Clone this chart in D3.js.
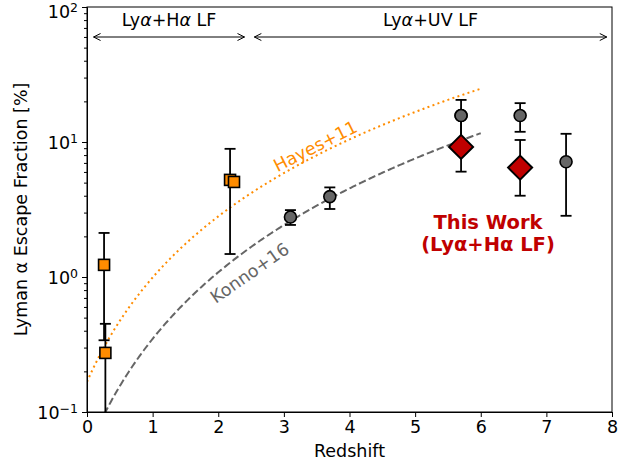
<!DOCTYPE html>
<html>
<head>
<meta charset="utf-8">
<script src="https://cdn.jsdelivr.net/npm/d3@7"></script>
<style>
  body { margin: 0; background: #fff; }
  text { font-family: "DejaVu Sans", sans-serif; }
</style>
</head>
<body>
<svg id="chart" width="636" height="463"></svg>
<script>
// Lyα+Hα luminosity-function estimates (orange squares)
const haZ  = [0.26, 0.28, 2.18, 2.24];
const haF  = [1.23, 0.274, 5.24, 5.06];
const haHi = [2.12, 0.45, 8.9, null];
const haLo = [0.34, 0.05, 1.48, null];

// Lyα+UV luminosity-function estimates (grey circles)
const uvZ  = [3.1, 3.7, 5.7, 6.6, 7.3];
const uvF  = [2.78, 3.94, 15.7, 15.7, 7.14];
const uvHi = [3.13, 4.61, 20.5, 19.4, 11.5];
const uvLo = [2.43, 3.19, 9.8, 11.9, 2.84];

// This work (red diamonds)
const twZ  = [5.7, 6.6];
const twF  = [9.2, 6.46];
const twHi = [15.0, 10.35];
const twLo = [6.03, 4.0];

// Published power-law fits f = C (1+z)^xi, in percent
const hayes = { C: 0.167, xi: 2.57, zmax: 6 };
const konno = { C: 0.05, xi: 2.8, zmax: 6 };

const xTicks = [0, 1, 2, 3, 4, 5, 6, 7, 8];
const yTicks = [0.1, 1, 10, 100];
const yTickExp = ["−1", "0", "1", "2"];

const FS = 17.5;
const W = 636, H = 463;
const m = { left: 87, right: 24, top: 7, bottom: 51 };
const iw = W - m.left - m.right, ih = H - m.top - m.bottom;

const svg = d3.select("#chart");
const x = d3.scaleLinear().domain([0, 8]).range([m.left, m.left + iw]);
const y = d3.scaleLog().domain([0.1, 100]).range([m.top + ih, m.top]);

svg.append("defs").append("clipPath").attr("id", "plot")
  .append("rect").attr("x", m.left).attr("y", m.top).attr("width", iw).attr("height", ih);

const plot = svg.append("g").attr("clip-path", "url(#plot)");

// model curves
function curve(p) {
  const zs = d3.range(0, p.zmax + 1e-9, 0.02);
  return zs.map(z => [z, p.C * Math.pow(1 + z, p.xi)]);
}
const line = d3.line().x(d => x(d[0])).y(d => y(Math.max(d[1], 1e-3)));

plot.append("path").datum(curve(hayes)).attr("d", line)
  .attr("fill", "none").attr("stroke", "#ff8c00").attr("stroke-width", 2)
  .attr("stroke-dasharray", "2,3.3");
plot.append("path").datum(curve(konno)).attr("d", line)
  .attr("fill", "none").attr("stroke", "#666").attr("stroke-width", 2)
  .attr("stroke-dasharray", "7.4,3.2");

// curve labels
svg.append("text").attr("transform", `translate(${x(3.48)},${y(9.3)}) rotate(-27)`)
  .attr("text-anchor", "middle").attr("dominant-baseline", "central")
  .attr("font-size", FS).attr("fill", "#ff8c00").text("Hayes+11");
svg.append("text").attr("transform", `translate(${x(2.48)},${y(1.07)}) rotate(-35)`)
  .attr("text-anchor", "middle").attr("dominant-baseline", "central")
  .attr("font-size", FS).attr("fill", "#666").text("Konno+16");

// error bars
function errorbars(zs, hi, lo) {
  const g = plot.append("g").attr("stroke", "#000").attr("stroke-width", 1.8);
  zs.forEach((z, i) => {
    if (hi[i] == null) return;
    const cx = x(z);
    g.append("line").attr("x1", cx).attr("x2", cx).attr("y1", y(hi[i])).attr("y2", y(lo[i]));
    g.append("line").attr("x1", cx - 5.5).attr("x2", cx + 5.5).attr("y1", y(hi[i])).attr("y2", y(hi[i]));
    g.append("line").attr("x1", cx - 5.5).attr("x2", cx + 5.5).attr("y1", y(lo[i])).attr("y2", y(lo[i]));
  });
}

errorbars(haZ, haHi, haLo);
plot.append("g").selectAll("rect").data(haZ).join("rect")
  .attr("x", d => x(d) - 5.5).attr("y", (d, i) => y(haF[i]) - 5.5)
  .attr("width", 11).attr("height", 11)
  .attr("fill", "#ff8c00").attr("stroke", "#000").attr("stroke-width", 1.6);

errorbars(uvZ, uvHi, uvLo);
plot.append("g").selectAll("circle").data(uvZ).join("circle")
  .attr("cx", d => x(d)).attr("cy", (d, i) => y(uvF[i])).attr("r", 6)
  .attr("fill", "#666").attr("stroke", "#000").attr("stroke-width", 1.6);

errorbars(twZ, twHi, twLo);
plot.append("g").selectAll("path").data(twZ).join("path")
  .attr("transform", (d, i) => `translate(${x(d)},${y(twF[i])})`)
  .attr("d", "M0,-12L12,0L0,12L-12,0Z")
  .attr("fill", "#c00000").attr("stroke", "#000").attr("stroke-width", 2);

// redraw the z=5.7 circle above the diamond's upper bar
plot.append("circle").attr("cx", x(uvZ[2])).attr("cy", y(uvF[2])).attr("r", 6)
  .attr("fill", "#666").attr("stroke", "#000").attr("stroke-width", 1.6);

// "This Work" annotation
const tw = svg.append("text").attr("text-anchor", "middle").attr("font-size", 19.5)
  .attr("font-weight", "bold").attr("fill", "#c00000");
tw.append("tspan").attr("x", 488).attr("y", 229).text("This Work");
tw.append("tspan").attr("x", 488).attr("y", 251).text("(Lyα+Hα LF)");

// method ranges along the top
const ranges = [
  { z0: 0.1, z1: 2.4, label: ["Ly", "α", "+H", "α", " LF"] },
  { z0: 2.55, z1: 7.92, label: ["Ly", "α", "+UV LF"] }
];
ranges.forEach(r => {
  const yy = 37, x0 = x(r.z0), x1 = x(r.z1);
  const g = svg.append("g").attr("stroke", "#000").attr("stroke-width", 1).attr("fill", "none");
  g.append("line").attr("x1", x0).attr("x2", x1).attr("y1", yy).attr("y2", yy);
  g.append("path").attr("d", `M${x0 + 7},${yy - 3.5}L${x0},${yy}L${x0 + 7},${yy + 3.5}`);
  g.append("path").attr("d", `M${x1 - 7},${yy - 3.5}L${x1},${yy}L${x1 - 7},${yy + 3.5}`);
  const t = svg.append("text").attr("x", (x0 + x1) / 2).attr("y", 26)
    .attr("text-anchor", "middle").attr("font-size", FS).attr("fill", "#000");
  r.label.forEach(s => {
    const ts = t.append("tspan").text(s);
    if (s === "α") ts.attr("font-style", "italic");
  });
});

// axes
const xAxis = d3.axisBottom(x).tickValues(xTicks).tickSize(5).tickPadding(4).tickFormat(d3.format("d"));
const gx = svg.append("g").attr("transform", `translate(0,${m.top + ih})`).call(xAxis);
gx.selectAll("text").attr("font-size", FS).attr("font-family", "DejaVu Sans").attr("fill", "#000");

const minor = [];
[0.1, 1, 10].forEach(b => { for (let k = 2; k <= 9; k++) minor.push(b * k); });
const yMinor = d3.axisLeft(y).tickValues(minor).tickSize(3).tickFormat("");
svg.append("g").attr("transform", `translate(${m.left},0)`).call(yMinor).select(".domain").remove();

const yAxis = d3.axisLeft(y).tickValues(yTicks).tickSize(5).tickFormat("");
svg.append("g").attr("transform", `translate(${m.left},0)`).call(yAxis);
yTicks.forEach((v, i) => {
  const t = svg.append("text").attr("x", m.left - 9).attr("y", Math.max(y(v) + 7, 18))
    .attr("text-anchor", "end").attr("font-size", FS).attr("fill", "#000");
  t.append("tspan").text("10");
  t.append("tspan").attr("font-size", 12.5).attr("dy", -6).text(yTickExp[i]);
});

svg.selectAll(".tick line").attr("stroke", "#000");
svg.selectAll(".domain").attr("stroke", "#000");

// frame
svg.append("rect").attr("x", m.left).attr("y", m.top).attr("width", iw).attr("height", ih)
  .attr("fill", "none").attr("stroke", "#000").attr("stroke-width", 1);

// axis titles
svg.append("text").attr("x", m.left + iw / 2).attr("y", 457).attr("text-anchor", "middle")
  .attr("font-size", FS).attr("fill", "#000").text("Redshift");
svg.append("text").attr("transform", `translate(27,${m.top + ih / 2}) rotate(-90)`)
  .attr("text-anchor", "middle").attr("font-size", FS).attr("fill", "#000")
  .text("Lyman α Escape Fraction [%]");
</script>
</body>
</html>
